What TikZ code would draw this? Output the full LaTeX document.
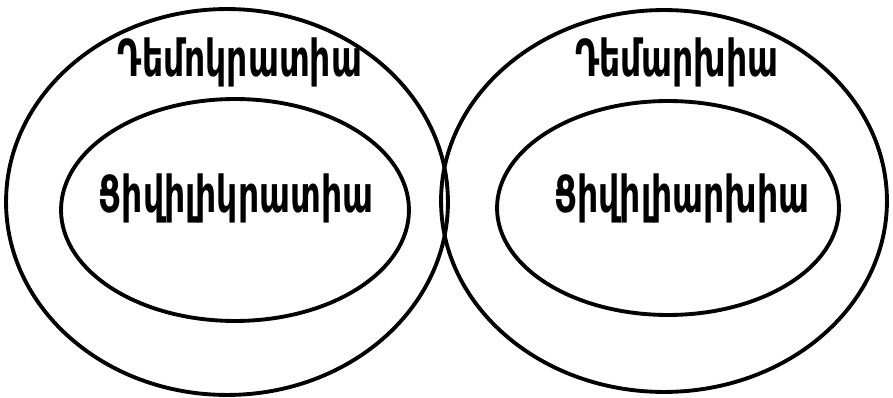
\documentclass[tikz,border=0pt]{standalone}
\usepackage{fontspec}
\newfontfamily\armfont[FakeStretch=0.72]{DejaVu Sans Condensed}
\usetikzlibrary{shapes.geometric}

\begin{document}
\begin{tikzpicture}[
  x=0.02cm, y=-0.02cm,
  ring/.style={draw, ellipse, line width=2.2pt, inner sep=0pt},
  lbl/.style={anchor=base, font=\armfont\bfseries\fontsize{29}{32}\selectfont},
]
\useasboundingbox (0,0) rectangle (893,398);
% outer sets
\node[ring, minimum width=8.84cm, minimum height=7.72cm] (demo) at (227,202) {};
\node[ring, minimum width=8.92cm, minimum height=7.64cm] (demarch) at (664,201) {};
% inner sets
\node[ring, minimum width=6.96cm, minimum height=4.44cm] (civkrat) at (235,210) {};
\node[ring, minimum width=6.84cm, minimum height=4.28cm] (civarch) at (668,208) {};

\node[lbl] (demoname) at (240,77) {Դեմոկրատիա};
\node[lbl] (demarchname) at (677,77) {Դեմարխիա};
\node[lbl] (civkratname) at (236,213) {Ցիվիլիկրատիա};
\node[lbl] (civarchname) at (682,213) {Ցիվիլիարխիա};
\end{tikzpicture}
\end{document}
